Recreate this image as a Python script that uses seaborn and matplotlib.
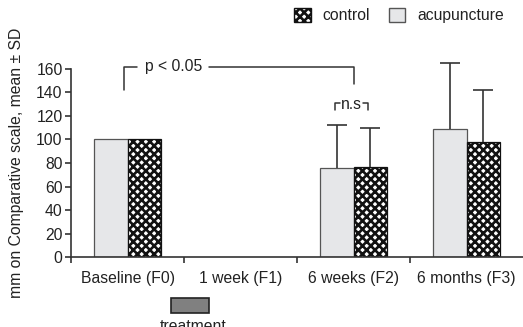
import pandas as pd
import seaborn as sns
import matplotlib.pyplot as plt
from matplotlib.patches import Patch, Rectangle

# data
timepoints = ["Baseline (F0)", "1 week (F1)", "6 weeks (F2)", "6 months (F3)"]
groups = ["acupuncture", "control"]
acu_mean = [100, None, 76, 109]
acu_sd = [0, None, 36, 56]
ctl_mean = [100, None, 77, 98]
ctl_sd = [0, None, 33, 44]

rows = []
for i, t in enumerate(timepoints):
    if acu_mean[i] is not None:
        rows.append({"time": t, "group": "acupuncture", "value": acu_mean[i], "sd": acu_sd[i]})
        rows.append({"time": t, "group": "control", "value": ctl_mean[i], "sd": ctl_sd[i]})
df = pd.DataFrame(rows)

sns.set_style("ticks")
plt.rcParams["font.family"] = ["Liberation Sans", "DejaVu Sans"]
plt.rcParams["hatch.linewidth"] = 1.9
FS = 11.3
txt = "#222222"
lc = "#333333"

fig = plt.figure(figsize=(5.23, 3.27), dpi=100)
ax = fig.add_axes([0.1358, 0.214, 0.8642, 0.629])

sns.barplot(data=df, x="time", y="value", hue="group", order=timepoints,
            hue_order=groups, width=0.59, errorbar=None, ax=ax, legend=False)

ctl_color = "#111111"
acu_color = "#e6e7e9"
CTL_HATCH = "xxxx"
# seaborn draws hue groups in order: first acupuncture bars, then control
bars = [b for b in ax.patches if b.get_height() > 0]
n = len(bars) // 2
for b in bars[:n]:
    b.set_facecolor(acu_color)
    b.set_edgecolor("#555555")
    b.set_linewidth(0.9)
for b in bars[n:]:
    b.set_facecolor("white")
    b.set_edgecolor(ctl_color)
    b.set_hatch(CTL_HATCH)
    b.set_linewidth(0.9)

# upward-only error bars (no cap at the bar top)
sds = list(df[df.group == "acupuncture"]["sd"]) + list(df[df.group == "control"]["sd"])
for b, sd in zip(bars, sds):
    if sd > 0:
        xc = b.get_x() + b.get_width() / 2
        _, caps, _ = ax.errorbar(xc, b.get_height(), yerr=[[0], [sd]], fmt="none",
                                 ecolor=lc, elinewidth=1.2, capsize=7, capthick=1.2)
        caps[0].set_visible(False)

ax.set_xlim(-0.5, 3.5)
ax.set_ylim(0, 175)
ax.set_yticks(range(0, 161, 20))
ax.spines["left"].set_bounds(0, 160)
ax.spines["right"].set_visible(False)
ax.spines["top"].set_visible(False)
for s in ["left", "bottom"]:
    ax.spines[s].set_color(lc)
    ax.spines[s].set_linewidth(1.2)
ax.set_xticks([-0.5, 0.5, 1.5, 2.5], minor=True)
ax.tick_params(axis="x", which="major", length=0, pad=10, labelsize=FS, colors=txt)
ax.tick_params(axis="x", which="minor", length=4, width=1.2, color=lc)
ax.tick_params(axis="y", length=4, width=1.2, labelsize=FS, pad=2, colors=txt)
ax.tick_params(axis="y", color=lc)
ax.set_xlabel("")
ax.set_ylabel("")
fig.text(17 / 523, 1 - 163 / 327, "mm on Comparative scale, mean \u00b1 SD",
         rotation=90, ha="center", va="center", fontsize=FS, color=txt)

# significance brackets
ax.plot([-0.03, -0.03, 0.08], [142, 162, 162], color=lc, lw=1.1)
ax.text(0.41, 162, "p < 0.05", ha="center", va="center", fontsize=FS, color=txt)
ax.plot([0.72, 2.0, 2.0], [162, 162, 147], color=lc, lw=1.1)
ax.plot([1.84, 1.84, 1.88], [125.5, 131, 131], color=lc, lw=1.1)
ax.plot([2.08, 2.13, 2.13], [131, 131, 125.5], color=lc, lw=1.1)
ax.text(1.98, 130, "n.s", ha="center", va="center", fontsize=FS, color=txt)

# legend
handles = [Patch(facecolor="white", edgecolor=ctl_color, hatch=CTL_HATCH, label="control"),
           Patch(facecolor=acu_color, edgecolor="#555555", label="acupuncture")]
fig.legend(handles=handles, loc="upper right", bbox_to_anchor=(0.99, 1.02), ncol=2,
           frameon=False, fontsize=FS, handlelength=1.05, handleheight=1.05,
           columnspacing=1.2, handletextpad=0.75, labelcolor=txt)

# treatment marker
fig.patches.append(Rectangle((171 / 523, 14 / 327), 38 / 523, 15 / 327,
                             transform=fig.transFigure, facecolor="#808080",
                             edgecolor="#222222", linewidth=1.2))
fig.text(193 / 523, 8 / 327, "treatment", ha="center", va="top", fontsize=FS, color=txt)

fig.savefig("out.png", dpi=100)
